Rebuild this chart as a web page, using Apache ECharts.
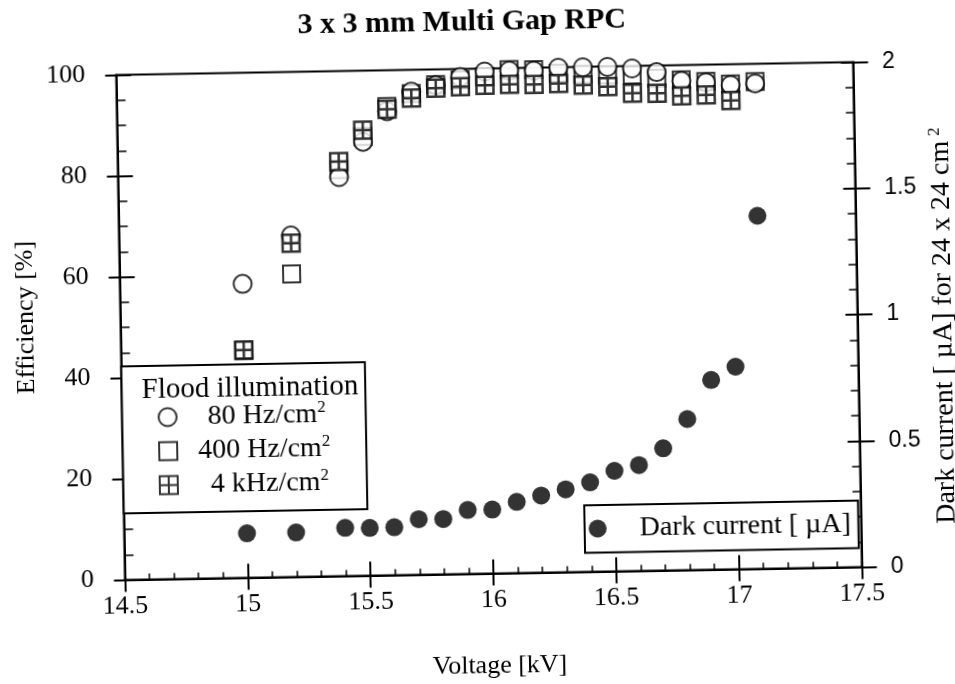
<!DOCTYPE html>
<html>
<head>
<meta charset="utf-8">
<title>3 x 3 mm Multi Gap RPC</title>
<script src="https://cdn.jsdelivr.net/npm/echarts@6.0.0/dist/echarts.min.js"></script>
<style>
  html, body {
    margin: 0;
    padding: 0;
    background: #fff;
    overflow: hidden;
  }
  /* the scanned figure is tilted about 1 degree */
  #chart {
    width: 955px;
    height: 684px;
    transform-origin: 489px 321px;
    transform: rotate(-1deg);
  }
</style>
</head>
<body>
<div id="chart"></div>
<script>
  // voltages [kV]
  var voltage = [15.0, 15.2, 15.4, 15.5, 15.6, 15.7, 15.8, 15.9, 16.0, 16.1,
                 16.2, 16.3, 16.4, 16.5, 16.6, 16.7, 16.8, 16.9, 17.0, 17.1];
  // efficiency [%]
  var eff80 = [58.2, 67.6, 79.0, 85.9, 91.9, 95.7, 96.9, 98.4, 99.4, 99.5,
               99.4, 99.9, 99.9, 99.9, 99.5, 98.7, 96.9, 96.5, 95.9, 96.1];
  var eff400 = [45.0, 60.0, 80.5, 87.0, 92.8, 95.3, 97.0, 97.8, 98.4, 99.7,
                99.6, 98.8, 98.5, 98.3, 98.2, 97.5, 97.1, 96.7, 96.1, 96.5];
  var eff4k = [45.1, 66.1, 82.1, 88.2, 92.3, 94.4, 96.3, 96.5, 96.7, 96.8,
               96.7, 96.8, 96.4, 96.0, 94.6, 94.5, 93.9, 94.0, 92.8, null];
  // dark current [uA]
  var dark = [0.176, 0.176, 0.191, 0.189, 0.19, 0.22, 0.219, 0.253, 0.253, 0.282,
              0.305, 0.328, 0.354, 0.398, 0.419, 0.484, 0.598, 0.751, 0.802, 1.398];

  var serif = 'Liberation Serif';
  var sans = 'Liberation Sans';
  var hashSymbol = 'path://M0 0H16V16H0Z M8 0V16 M0 8H16';

  function pairs(ys) {
    var out = [];
    voltage.forEach(function (v, i) {
      if (ys[i] != null) out.push([v, ys[i]]);
    });
    return out;
  }

  var line = {color: '#000', width: 2};

  var xBase = {
    type: 'value', min: 14.5, max: 17.5, interval: 0.5, position: 'bottom',
    splitLine: {show: false}
  };
  var yLeft = {type: 'value', min: 0, max: 100, interval: 20, position: 'left', splitLine: {show: false}};
  var yRight = {type: 'value', min: 0, max: 2, interval: 0.5, position: 'right', splitLine: {show: false}};

  var openStyle = {color: '#fff', borderColor: '#000', borderWidth: 2};

  var option = {
    animation: false,
    backgroundColor: '#fff',
    title: {
      text: '3 x 3 mm Multi Gap RPC',
      left: 467, top: 7, padding: 0, textAlign: 'center',
      textStyle: {fontFamily: serif, fontSize: 30, fontWeight: 'bold', color: '#000'}
    },
    grid: {
      left: 120.5, top: 68.5, width: 737, height: 505,
      outerBoundsMode: 'none', containLabel: false,
      show: true, borderColor: '#000', borderWidth: 2
    },
    xAxis: [
      Object.assign({}, xBase, {
        axisLine: {lineStyle: line},
        axisTick: {inside: false, length: 12, lineStyle: line},
        axisLabel: {fontFamily: serif, fontSize: 26, color: '#000', margin: 14},
        name: 'Voltage [kV]', nameLocation: 'middle', nameGap: 80,
        nameTextStyle: {fontFamily: serif, fontSize: 26, color: '#000', padding: [0, 0, 0, 10]}
      }),
      Object.assign({}, xBase, {
        axisLine: {show: false},
        axisTick: {inside: true, length: 14, lineStyle: line},
        minorTick: {show: true, splitNumber: 5, length: 6, lineStyle: {color: '#000', width: 1.5}},
        axisLabel: {show: false}
      })
    ],
    yAxis: [
      Object.assign({}, yLeft, {
        axisLine: {lineStyle: line},
        axisTick: {inside: false, length: 11, lineStyle: line},
        axisLabel: {fontFamily: serif, fontSize: 26, color: '#000', margin: 31},
        name: 'Efficiency [%]', nameLocation: 'middle', nameRotate: 90, nameGap: 70,
        nameTextStyle: {fontFamily: serif, fontSize: 26, color: '#000', padding: [0, 0, 0, 23]}
      }),
      Object.assign({}, yRight, {
        axisLine: {lineStyle: line},
        axisTick: {inside: false, length: 15, lineStyle: line},
        axisLabel: {fontFamily: sans, fontSize: 23, color: '#000', margin: 29},
        name: 'Dark current [ µA] for 24 x 24 cm{sup|2}',
        nameLocation: 'middle', nameRotate: 90, nameGap: 72,
        nameTextStyle: {
          fontFamily: serif, fontSize: 28, color: '#000', padding: [0, 25, 0, 0],
          rich: {sup: {fontFamily: serif, fontSize: 17, color: '#000', verticalAlign: 'top', padding: [0, 0, 0, 5]}}
        }
      }),
      Object.assign({}, yLeft, {
        axisLine: {show: false},
        axisTick: {inside: true, length: 15, lineStyle: line},
        minorTick: {show: true, splitNumber: 4, length: 9, lineStyle: {color: '#000', width: 1.5}},
        axisLabel: {show: false}
      }),
      Object.assign({}, yRight, {
        axisLine: {show: false},
        axisTick: {inside: true, length: 12, lineStyle: line},
        minorTick: {show: true, splitNumber: 5, length: 8, lineStyle: {color: '#000', width: 1.5}},
        axisLabel: {show: false}
      })
    ],
    legend: [
      {
        orient: 'vertical', left: 120.5, top: 360,
        padding: [36.5, 36, 12.5, 35.5],
        itemWidth: 18, itemHeight: 18, itemGap: 4,
        borderColor: '#000', borderWidth: 2, backgroundColor: '#fff',
        selectedMode: false,
        data: ['80 Hz/cm2', '400 Hz/cm2', '4 kHz/cm2'],
        itemStyle: {color: '#fff', borderColor: '#000', borderWidth: 2},
        formatter: function (name) {
          var gap = {'80 Hz/cm2': '{g26|}', '400 Hz/cm2': '{g16|}', '4 kHz/cm2': '{g28|}'}[name];
          return gap + name.replace(/cm2$/, 'cm{sup|2}');
        },
        textStyle: {
          fontFamily: serif, fontSize: 28, lineHeight: 30, color: '#000',
          rich: {
            g16: {width: 16},
            g26: {width: 26},
            g28: {width: 28},
            sup: {fontFamily: serif, fontSize: 17, color: '#000', verticalAlign: 'top'}
          }
        }
      },
      {
        orient: 'vertical', left: 581, top: 507,
        padding: [8.5, 7.5, 9, 4],
        itemWidth: 24, itemHeight: 18,
        borderColor: '#000', borderWidth: 2, backgroundColor: '#fff',
        selectedMode: false,
        data: ['Dark current [ µA]'],
        formatter: function (name) { return '{g|}' + name; },
        textStyle: {
          fontFamily: serif, fontSize: 28, lineHeight: 30, color: '#000',
          rich: {g: {width: 25}}
        }
      }
    ],
    graphic: [{
      type: 'text', left: 140.6, top: 370, z: 100,
      style: {text: 'Flood illumination', font: '29px "Liberation Serif"', fill: '#000'}
    }],
    series: [
      {
        name: '400 Hz/cm2', type: 'scatter', xAxisIndex: 0, yAxisIndex: 0,
        symbol: 'rect', symbolSize: 17, itemStyle: openStyle,
        data: pairs(eff400)
      },
      {
        name: '80 Hz/cm2', type: 'scatter', xAxisIndex: 0, yAxisIndex: 0,
        symbol: 'circle', symbolSize: 18, itemStyle: openStyle,
        data: pairs(eff80)
      },
      {
        name: '4 kHz/cm2', type: 'scatter', xAxisIndex: 0, yAxisIndex: 0,
        symbol: hashSymbol, symbolSize: 17,
        itemStyle: {color: '#fff', borderColor: '#000', borderWidth: 2.5},
        data: pairs(eff4k)
      },
      {
        name: 'Dark current [ µA]', type: 'scatter', xAxisIndex: 0, yAxisIndex: 1,
        symbol: 'circle', symbolSize: 18, itemStyle: {color: '#000'},
        data: pairs(dark)
      }
    ]
  };

  var chart = echarts.init(document.getElementById('chart'));
  chart.setOption(option);
</script>
</body>
</html>
